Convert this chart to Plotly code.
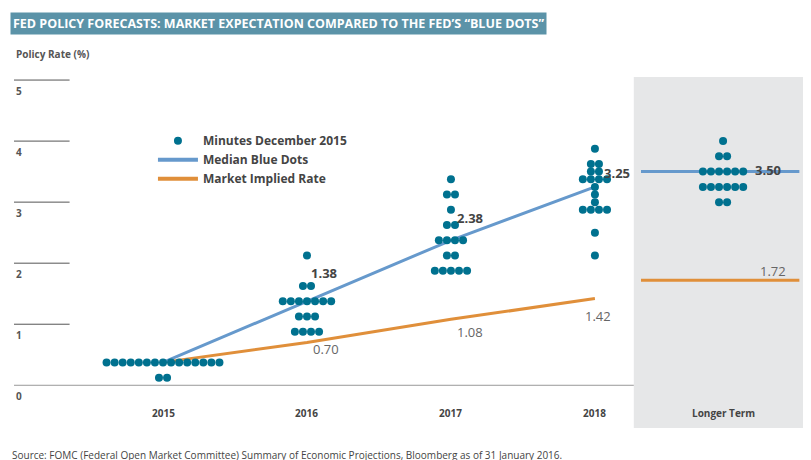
import plotly.graph_objects as go

# x positions for each period
periods = ["2015", "2016", "2017", "2018", "Longer Term"]
period_x = [0, 1, 2, 3, 3.89]

# FOMC dots: (rate, count) per period
dots = {
    "2015": [(0.375, 15), (0.125, 2)],
    "2016": [(2.125, 1), (1.625, 2), (1.375, 7), (1.125, 3), (0.875, 4)],
    "2017": [(3.375, 1), (3.125, 2), (2.875, 1), (2.625, 2), (2.375, 4), (2.125, 2), (1.875, 5)],
    "2018": [(3.875, 1), (3.625, 2), (3.5, 2), (3.375, 4), (3.25, 1), (3.125, 1),
             (3.0, 1), (2.875, 4), (2.5, 1), (2.125, 1)],
    "Longer Term": [(4.0, 1), (3.75, 2), (3.5, 6), (3.25, 6), (3.0, 2)],
}

median_x = [0, 1, 2, 3]
median_y = [0.375, 1.375, 2.375, 3.25]
market_y = [0.375, 0.70, 1.08, 1.42]
lt_median = 3.50
lt_market = 1.72

teal = "#00718f"
blue = "#6699cc"
orange = "#e08f3a"
grey_txt = "#555555"

dx, dy = [], []
for p, xc in zip(periods, period_x):
    for rate, n in dots[p]:
        for i in range(n):
            dx.append(xc + (i - (n - 1) / 2) * 0.056)
            dy.append(rate)

fig = go.Figure()
fig.add_shape(type="rect", x0=3.27, x1=4.48, y0=-0.7, y1=5.05,
              fillcolor="#e6e7e8", line_width=0, layer="below")
for v in range(1, 6):
    fig.add_shape(type="line", xref="paper", x0=0, x1=0.07, y0=v, y1=v,
                  line=dict(color="#555555", width=1))
    fig.add_annotation(xref="paper", x=0.0, y=v - 0.18, text="<b>%d</b>" % v,
                       showarrow=False, xanchor="left", font=dict(size=10, color=grey_txt))
fig.add_shape(type="line", x0=-1.035, x1=3.27, y0=0, y1=0, line=dict(color="#999999", width=1))
fig.add_annotation(xref="paper", x=0.0, y=-0.18, text="<b>0</b>", showarrow=False,
                   xanchor="left", font=dict(size=10, color=grey_txt))

fig.add_trace(go.Scatter(x=median_x, y=market_y, mode="lines",
                         line=dict(color=orange, width=3), showlegend=False))
fig.add_trace(go.Scatter(x=median_x, y=median_y, mode="lines",
                         line=dict(color=blue, width=3), showlegend=False))
fig.add_trace(go.Scatter(x=[3.32, 4.42], y=[lt_median] * 2, mode="lines",
                         line=dict(color=blue, width=3), showlegend=False))
fig.add_trace(go.Scatter(x=[3.32, 4.42], y=[lt_market] * 2, mode="lines",
                         line=dict(color=orange, width=3), showlegend=False))
fig.add_trace(go.Scatter(x=dx, y=dy, mode="markers",
                         marker=dict(color=teal, size=8), showlegend=False))

# legend entries
fig.add_trace(go.Scatter(x=[None], y=[None], mode="markers", name="<b>Minutes December 2015</b>",
                         marker=dict(color=teal, size=8)))
fig.add_trace(go.Scatter(x=[None], y=[None], mode="lines", name="<b>Median Blue Dots</b>",
                         line=dict(color=blue, width=4)))
fig.add_trace(go.Scatter(x=[None], y=[None], mode="lines", name="<b>Market Implied Rate</b>",
                         line=dict(color=orange, width=4)))

for p, xc in zip(periods, period_x):
    fig.add_annotation(x=xc, y=-0.45, text="<b>%s</b>" % p, showarrow=False,
                       font=dict(size=10, color="#444444"))

bold_labels = [(1.12, 1.84, "1.38"), (2.13, 2.74, "2.38"), (3.15, 3.48, "3.25"), (4.2, 3.52, "3.50")]
plain_labels = [(1.13, 0.59, "0.70"), (2.13, 0.87, "1.08"), (3.02, 1.13, "1.42"), (4.24, 1.88, "1.72")]
for x, y, t in bold_labels:
    fig.add_annotation(x=x, y=y, text="<b>%s</b>" % t, showarrow=False,
                       font=dict(size=13, color="#444444"))
for x, y, t in plain_labels:
    fig.add_annotation(x=x, y=y, text=t, showarrow=False, font=dict(size=13, color="#666666"))

fig.add_annotation(xref="paper", yref="paper", x=0.0, y=1.04, yanchor="bottom",
                   text="<b>Policy Rate (%)</b>", showarrow=False, xanchor="left",
                   font=dict(size=10, color=grey_txt))
fig.add_annotation(xref="paper", yref="paper", x=-0.005, y=1.151, yanchor="middle", xanchor="left",
                   text="<b>FED POLICY FORECASTS: MARKET EXPECTATION COMPARED TO THE FED\u2019S \u201cBLUE DOTS\u201d</b>",
                   showarrow=False, bgcolor="#5b93a8", font=dict(size=12.5, color="white"),
                   borderpad=2)
fig.add_annotation(xref="paper", yref="paper", x=-0.005, y=-0.077, yanchor="middle", xanchor="left",
                   text="Source: FOMC (Federal Open Market Committee) Summary of Economic Projections, Bloomberg as of 31 January 2016.",
                   showarrow=False, font=dict(size=10, color="#444444"))

fig.update_layout(
    width=811, height=460, margin=dict(l=6, r=11, t=69, b=40, autoexpand=False),
    plot_bgcolor="white", paper_bgcolor="white",
    font=dict(family="Open Sans"),
    xaxis=dict(range=[-1.035, 4.48], visible=False),
    yaxis=dict(range=[-0.7, 5.05], visible=False),
    legend=dict(x=0.175, y=0.86, xanchor="left", yanchor="top", bgcolor="rgba(0,0,0,0)",
                font=dict(size=12, color="#444444"), tracegroupgap=0, itemwidth=40),
)
fig.write_html("out.html")
